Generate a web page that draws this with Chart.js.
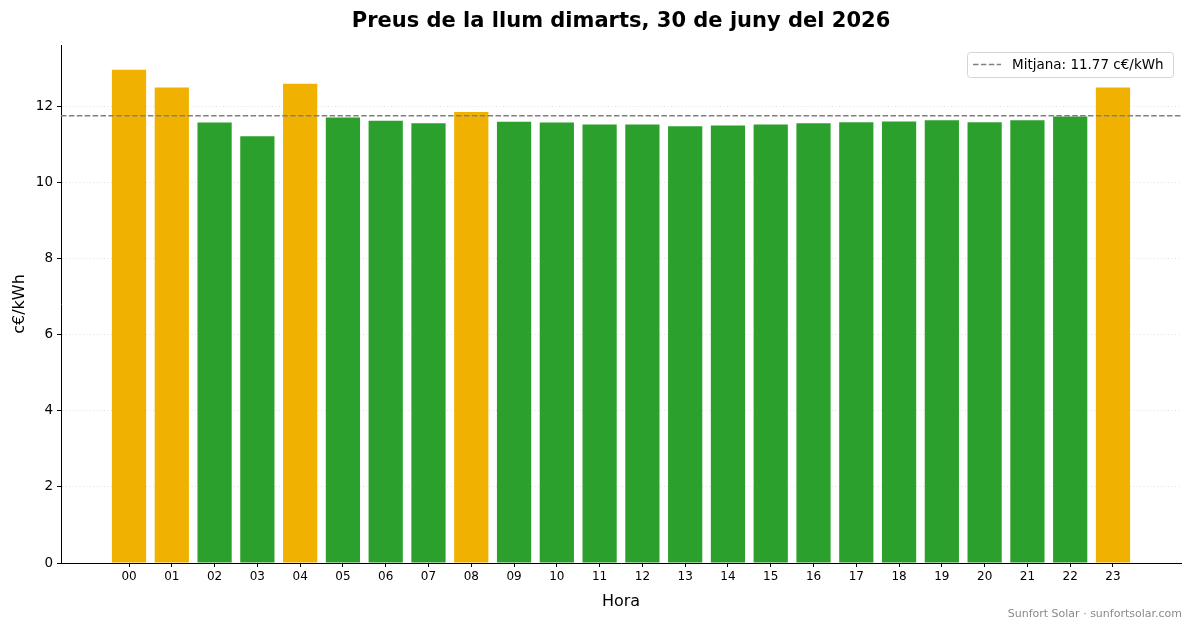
<!DOCTYPE html>
<html>
<head>
<meta charset="utf-8">
<script src="https://cdn.jsdelivr.net/npm/chart.js@4/dist/chart.umd.min.js"></script>
<style>
  html, body { margin: 0; padding: 0; background: #fff; }
  #wrap { width: 1193px; height: 628px; position: relative; }
</style>
</head>
<body>
<div id="wrap"><canvas id="chart" width="1193" height="628"></canvas></div>
<script>
// Data
const hores = ['00','01','02','03','04','05','06','07','08','09','10','11',
               '12','13','14','15','16','17','18','19','20','21','22','23'];
const preus = [12.98, 12.51, 11.59, 11.23, 12.61, 11.72, 11.64, 11.57, 11.87, 11.61, 11.59, 11.54,
               11.54, 11.49, 11.51, 11.54, 11.57, 11.60, 11.62, 11.65, 11.60, 11.65, 11.75, 12.51];
const mitjana = 11.77;
const yTicks = [0, 2, 4, 6, 8, 10, 12];

const titol = 'Preus de la llum dimarts, 30 de juny del 2026';
const FONT = "'DejaVu Sans', sans-serif";
const ORANGE = '#f0b100';
const GREEN = '#2ca02c';

// Title, axis labels, legend and footer
const decorPlugin = {
    id: 'decor',
    afterDraw(chart) {
        const ctx = chart.ctx;
        const area = chart.chartArea;
        const cx = (area.left + area.right) / 2;
        ctx.save();
        ctx.fillStyle = '#000';
        ctx.textAlign = 'center';
        ctx.textBaseline = 'alphabetic';
        ctx.font = 'bold 21px ' + FONT;
        ctx.fillText(titol, cx, 27);

        ctx.font = '16px ' + FONT;
        ctx.fillText('Hora', cx, 606);

        ctx.save();
        ctx.translate(20, (area.top + area.bottom) / 2);
        ctx.rotate(-Math.PI / 2);
        ctx.textBaseline = 'middle';
        ctx.fillText('c€/kWh', 0, 0);
        ctx.restore();

        // legend
        const lx = 967, ly = 52, lw = 206, lh = 25;
        ctx.fillStyle = 'rgba(255,255,255,0.8)';
        ctx.strokeStyle = '#d5d5d5';
        ctx.lineWidth = 1;
        ctx.beginPath();
        ctx.roundRect(lx + 0.5, ly + 0.5, lw, lh, 3);
        ctx.fill();
        ctx.stroke();
        ctx.strokeStyle = '#808080';
        ctx.lineWidth = 1.5;
        ctx.setLineDash([5.5, 2.4]);
        ctx.beginPath();
        ctx.moveTo(973, 64.5);
        ctx.lineTo(1001, 64.5);
        ctx.stroke();
        ctx.setLineDash([]);
        ctx.fillStyle = '#000';
        ctx.textAlign = 'left';
        ctx.textBaseline = 'middle';
        ctx.font = '13.5px ' + FONT;
        ctx.fillText('Mitjana: ' + mitjana.toFixed(2) + ' c€/kWh', 1012, 65);

        // footer
        ctx.fillStyle = '#8a8a8a';
        ctx.textAlign = 'right';
        ctx.font = '11px ' + FONT;
        ctx.fillText('Sunfort Solar · sunfortsolar.com', 1182, 614);
        ctx.restore();
    }
};

const barData = hores.map((h, i) => ({ x: i, y: preus[i] }));
const barColors = preus.map(v => v > mitjana ? ORANGE : GREEN);

new Chart(document.getElementById('chart'), {
    type: 'bar',
    data: {
        datasets: [
            {
                type: 'line',
                data: [{ x: -1.59, y: mitjana }, { x: 24.59, y: mitjana }],
                borderColor: '#808080',
                borderWidth: 1.5,
                borderDash: [5.5, 2.4],
                pointRadius: 0,
                order: 0
            },
            {
                data: barData,
                backgroundColor: barColors,
                borderWidth: 0,
                barPercentage: 0.8,
                categoryPercentage: 1,
                order: 1
            }
        ]
    },
    options: {
        responsive: false,
        animation: false,
        devicePixelRatio: 1,
        layout: { padding: { top: 45, right: 12, bottom: 0, left: 0 } },
        plugins: {
            legend: { display: false },
            tooltip: { enabled: false }
        },
        scales: {
            x: {
                type: 'linear',
                min: -1.59,
                max: 24.59,
                offset: false,
                afterBuildTicks: s => { s.ticks = hores.map((h, i) => ({ value: i })); },
                afterFit: s => { s.height = 65; },
                grid: { offset: false, drawOnChartArea: false, drawTicks: true, tickLength: 4, tickColor: '#000', tickWidth: 1 },
                border: { display: true, color: '#000', width: 1 },
                ticks: {
                    autoSkip: false,
                    maxRotation: 0,
                    padding: 3,
                    color: '#000',
                    font: { family: FONT, size: 12 },
                    callback: v => hores[v]
                }
            },
            y: {
                min: 0,
                max: 13.63,
                afterBuildTicks: s => { s.ticks = yTicks.map(v => ({ value: v })); },
                afterFit: s => { s.width = 61; },
                grid: { color: '#d8d8d8', lineWidth: 0.8, drawTicks: true, tickLength: 4, tickColor: '#000', tickWidth: 1, tickBorderDash: [] },
                border: { display: true, color: '#000', width: 1, dash: [1, 2.5] },
                ticks: {
                    padding: 4,
                    color: '#000',
                    font: { family: FONT, size: 13.5 },
                    callback: v => String(v)
                }
            }
        }
    },
    plugins: [decorPlugin]
});
</script>
</body>
</html>
